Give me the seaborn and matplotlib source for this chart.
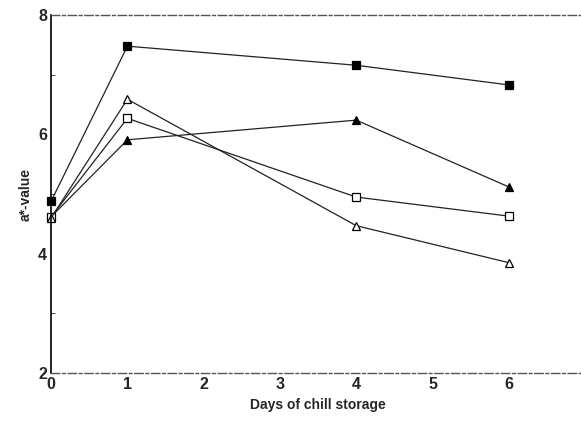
import seaborn as sns
import matplotlib.pyplot as plt
import pandas as pd

days = [0, 1, 4, 6]
filled_square = [4.88, 7.48, 7.16, 6.83]
filled_triangle = [4.62, 5.91, 6.24, 5.12]
open_square = [4.62, 6.27, 4.95, 4.63]
open_triangle = [4.60, 6.59, 4.47, 3.85]

series = {
    'filled square': (filled_square, 's', 'black'),
    'filled triangle': (filled_triangle, '^', 'black'),
    'open square': (open_square, 's', 'white'),
    'open triangle': (open_triangle, '^', 'white'),
}

sns.set_style('white')
plt.rcParams['font.family'] = ['Liberation Sans', 'DejaVu Sans']

fig = plt.figure(figsize=(5.81, 4.21), dpi=100)
ax = fig.add_axes([0.088, 0.114, 0.919, 0.85])

for name, (vals, mk, fc) in series.items():
    df = pd.DataFrame({'day': days, 'a': vals})
    sns.lineplot(x='day', y='a', data=df, ax=ax, color='#222222', linewidth=0.9,
                 marker=mk, markersize=6.3, markerfacecolor=fc,
                 markeredgecolor='black', markeredgewidth=0.9, clip_on=False)

ax.set_xlim(0, 7)
ax.set_ylim(2, 8)
ax.set_xticks(range(0, 8))
ax.set_yticks([2, 4, 6, 8])
ax.set_yticks([3, 5, 7], minor=True)
ax.tick_params(axis='both', labelsize=11.5, length=0, pad=3)
ax.tick_params(axis='y', which='minor', length=3, width=0.6, direction='in', left=True)
for lab in ax.get_xticklabels() + ax.get_yticklabels():
    lab.set_fontweight('bold')

ax.set_xlabel('Days of chill storage', fontsize=10, fontweight='bold', labelpad=4)
ax.set_ylabel('a*-value', fontsize=10, fontweight='bold', labelpad=4)

ax.spines['left'].set_color('black')
ax.spines['left'].set_linewidth(1.2)
ax.spines['right'].set_visible(False)
for s in ['top', 'bottom']:
    ax.spines[s].set_color('#555555')
    ax.spines[s].set_linewidth(1.0)
    ax.spines[s].set_linestyle((0, (6, 2, 2, 2)))

plt.savefig('out.png', dpi=100)
